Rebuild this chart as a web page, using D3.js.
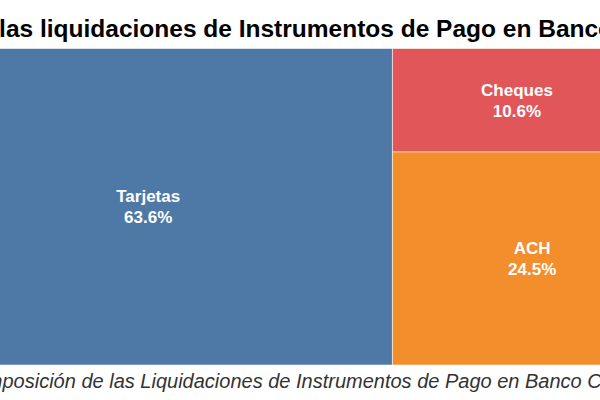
<!DOCTYPE html>
<html>
<head>
<meta charset="utf-8">
<script src="https://cdn.jsdelivr.net/npm/d3@7"></script>
<style>
  body { margin: 0; background: #fff; }
  svg { display: block; font-family: "Liberation Sans", Arial, sans-serif; }
</style>
</head>
<body>
<svg id="d3svg" width="600" height="400"></svg>
<script>
// datos (porcentaje de las liquidaciones)
var categorias = ["Tarjetas", "Cheques", "Otros", "ACH"];
var valores = [63.6, 10.6, 1.3, 24.5];
var etiquetas = ["63.6%", "10.6%", "1.3%", "24.5%"];

var titulo = "Composición de las liquidaciones de Instrumentos de Pago en Banco Central";
var pie = "Composición de las Liquidaciones de Instrumentos de Pago en Banco Central";

var treemapchart = {};

treemapchart.make = function() {

  var svg = d3.select("#d3svg");

  // the chart is wider than the window, it gets cut on both sides
  var x0 = -96, x1 = 672, y0 = 48.5, y1 = 365;

  var data = categorias.map(function(d, i) {
    return { name: d, value: valores[i], label: etiquetas[i] };
  });

  // colour order follows the size of each slice
  var orden = _sortByValue(data);
  var color = d3.scaleOrdinal(d3.schemeTableau10).domain(orden);

  var root = d3.hierarchy({ children: data })
      .sum(function(d) { return d.value || 0; });

  d3.treemap()
      .tile(d3.treemapBinary)
      .size([x1 - x0, y1 - y0])
      .round(false)(root);

  var node = svg.append("g")
      .attr("class", "nodes")
      .attr("transform", "translate(" + x0 + "," + y0 + ")")
      .selectAll("g")
      .data(root.leaves())
      .enter().append("g")
      .attr("class", "node");

  node.append("rect")
      .attr("x", function(d) { return d.x0; })
      .attr("y", function(d) { return d.y0; })
      .attr("width", function(d) { return d.x1 - d.x0; })
      .attr("height", function(d) { return d.y1 - d.y0; })
      .attr("fill", function(d) { return color(d.data.name); })
      .attr("stroke", "#fff")
      .attr("stroke-opacity", 0.55)
      .attr("stroke-width", 1);

  var txt = node.filter(function(d) { return d.x1 - d.x0 > 60; })
      .append("text")
      .attr("text-anchor", "middle")
      .attr("fill", "#fff")
      .style("font-size", "17px")
      .style("font-weight", "bold");

  txt.append("tspan")
      .attr("x", function(d) { return (d.x0 + d.x1) / 2; })
      .attr("y", function(d) { return (d.y0 + d.y1) / 2 - 4.4; })
      .text(function(d) { return d.data.name; });

  txt.append("tspan")
      .attr("x", function(d) { return (d.x0 + d.x1) / 2; })
      .attr("y", function(d) { return (d.y0 + d.y1) / 2 + 16.6; })
      .text(function(d) { return d.data.label; });

  // titulo
  svg.append("text")
      .attr("x", 253)
      .attr("y", 37)
      .attr("text-anchor", "middle")
      .attr("fill", "#000")
      .style("font-size", "24.5px")
      .style("font-weight", "bold")
      .text(titulo);

  // pie de grafico
  svg.append("text")
      .attr("x", 306)
      .attr("y", 388)
      .attr("text-anchor", "middle")
      .attr("fill", "#333")
      .style("font-size", "20px")
      .style("font-style", "italic")
      .text(pie);
}

function _sortByValue(data) {
  return data.slice().sort(function(a, b) { return b.value - a.value; })
    .map(function(d) { return d.name; });
}

treemapchart.make();
</script>
</body>
</html>
